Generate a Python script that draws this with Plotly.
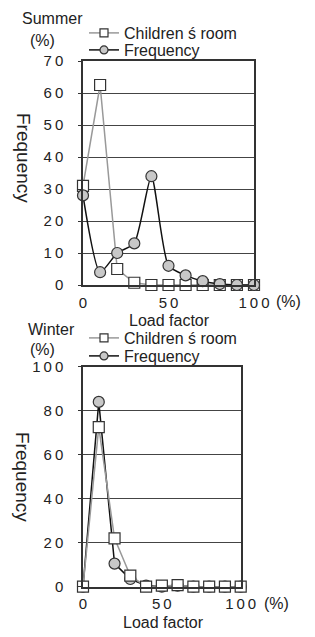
import plotly.graph_objects as go

load_factor = [0, 10, 20, 30, 40, 50, 60, 70, 80, 90, 100]

summer_children = [31, 62.5, 5, 0.7, 0, 0, 0, 0, 0, 0, 0]
summer_frequency = [28, 4, 10, 13, 34, 6, 3, 1.2, 0.3, 0, 0]

winter_children = [0, 72.5, 22, 5, 0, 0.5, 0.7, 0, 0, 0, 0]
winter_frequency = [0, 84, 10.5, 3.5, 0.5, 0, 0.5, 0, 0, 0, 0]

series_names = ["Children ś room", "Frequency"]

SP = "\u2009"
summer_yticks = [0, 10, 20, 30, 40, 50, 60, 70]
summer_yticktext = ["0"] + [f"{d}{SP}0" for d in range(1, 8)]
winter_yticks = [0, 20, 40, 60, 80, 100]
winter_yticktext = ["0", f"2{SP}0", f"4{SP}0", f"6{SP}0", f"8{SP}0", f"1{SP}0{SP}0"]
xticks = [0, 50, 100]
xticktext = ["0", f"5{SP}0", f"1{SP}0{SP}0"]

FONT = "Liberation Sans, Arial, sans-serif"
TXT = "#222222"
W, H = 315, 637


def px(x):
    return x / W


def py(y):
    return 1 - y / H


fig = go.Figure()

sq = dict(symbol="square", size=11, color="white", line=dict(color="#333333", width=1.2))
ci = dict(symbol="circle", size=11, color="#c8c8c8", line=dict(color="#333333", width=1.2))
sq_leg = dict(symbol="square", size=8, color="white", line=dict(color="#333333", width=1.2))
ci_leg = dict(symbol="circle", size=8, color="#c8c8c8", line=dict(color="#333333", width=1.2))
gray_line = dict(color="#999999", width=1.5)
black_line = dict(color="#111111", width=1.5)

# Summer
fig.add_trace(go.Scatter(x=load_factor, y=summer_children, mode="lines+markers", name=series_names[0],
                         line=gray_line, marker=sq, xaxis="x", yaxis="y", showlegend=False, cliponaxis=False))
fig.add_trace(go.Scatter(x=load_factor, y=summer_frequency, mode="lines+markers", name=series_names[1],
                         line=dict(color="#111111", width=1.5, shape="spline", smoothing=0.6), marker=ci,
                         xaxis="x", yaxis="y", showlegend=False, cliponaxis=False))
# Winter
fig.add_trace(go.Scatter(x=load_factor, y=winter_frequency, mode="lines+markers", name=series_names[1],
                         line=black_line, marker=ci, xaxis="x2", yaxis="y2", showlegend=False, cliponaxis=False))
fig.add_trace(go.Scatter(x=load_factor, y=winter_children, mode="lines+markers", name=series_names[0],
                         line=gray_line, marker=sq, xaxis="x2", yaxis="y2", showlegend=False, cliponaxis=False))

# legend entries (one legend per row so row spacing can match)
for lg, name, ln, mk, ax in [
        ("legend", series_names[0], gray_line, sq_leg, ("x", "y")),
        ("legend2", series_names[1], black_line, ci_leg, ("x", "y")),
        ("legend3", series_names[0], gray_line, sq_leg, ("x2", "y2")),
        ("legend4", series_names[1], black_line, ci_leg, ("x2", "y2"))]:
    fig.add_trace(go.Scatter(x=[None], y=[None], mode="lines+markers", name=name, line=ln, marker=mk,
                             xaxis=ax[0], yaxis=ax[1], legend=lg, showlegend=True))

axis_common = dict(showline=True, mirror=True, linecolor="#333333", linewidth=1.5,
                   zeroline=False, tickfont=dict(family=FONT, size=15, color=TXT), fixedrange=True)


def leg(y):
    return dict(x=px(84), y=py(y), xanchor="left", yanchor="middle", bgcolor="rgba(0,0,0,0)",
                font=dict(family=FONT, size=16, color=TXT), itemwidth=30, borderwidth=0)


fig.update_layout(
    width=W, height=H,
    margin=dict(l=0, r=0, t=0, b=0, autoexpand=False),
    paper_bgcolor="white", plot_bgcolor="white",
    xaxis=dict(domain=[px(83), px(254)], range=[0, 100], anchor="y", tickvals=xticks, ticktext=xticktext,
               showgrid=False, ticks="", ticklabelstandoff=3, automargin=False, **axis_common),
    yaxis=dict(domain=[py(285), py(61)], range=[0, 70], anchor="x", tickvals=summer_yticks,
               ticktext=summer_yticktext, showgrid=True, gridcolor="#444444", gridwidth=1,
               ticks="outside", ticklen=3, tickcolor="#333333", ticklabelstandoff=12, automargin=False,
               **axis_common),
    xaxis2=dict(domain=[px(83), px(240.7)], range=[0, 100], anchor="y2", tickvals=xticks, ticktext=xticktext,
                showgrid=False, ticks="", ticklabelstandoff=3, automargin=False, **axis_common),
    yaxis2=dict(domain=[py(586.7), py(366.7)], range=[0, 100], anchor="x2", tickvals=winter_yticks,
                ticktext=winter_yticktext, showgrid=True, gridcolor="#444444", gridwidth=1,
                ticks="outside", ticklen=3, tickcolor="#333333", ticklabelstandoff=12, automargin=False,
                **axis_common),
    legend=leg(33), legend2=leg(50), legend3=leg(338), legend4=leg(356),
    showlegend=True,
)


def ann(text, x, y, size=15, angle=0, xanchor="center"):
    fig.add_annotation(text=text, x=px(x), y=py(y), xref="paper", yref="paper", showarrow=False,
                       xanchor=xanchor, yanchor="middle", textangle=angle,
                       font=dict(family=FONT, size=size, color=TXT))


ann("Summer", 52, 19, 16)
ann("(%)", 42, 41, 16)
ann("Frequency", 23, 158, 19, angle=90)
ann("Load factor", 169, 320, 16)
ann("(%)", 288, 301, 16)

ann("Winter", 51, 330, 16)
ann("(%)", 42, 349, 16)
ann("Frequency", 23, 477, 19, angle=90)
ann("Load factor", 163, 622, 16)
ann("(%)", 276, 603, 16)

fig.write_html("out.html", config={"displayModeBar": False},
               post_script="document.body.style.margin='0';document.body.style.overflow='hidden';")
